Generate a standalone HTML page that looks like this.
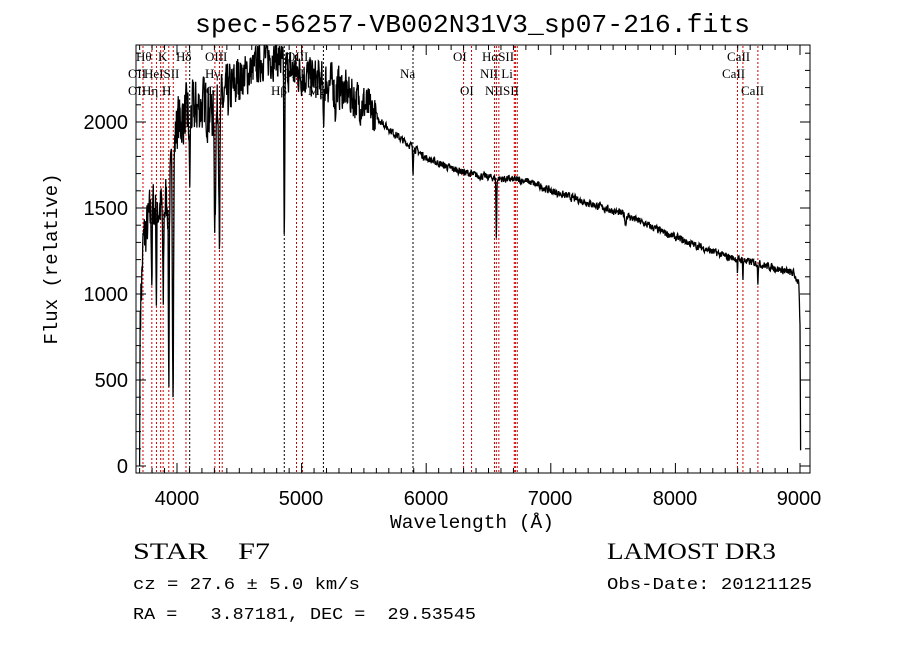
<!DOCTYPE html>
<html><head><meta charset="utf-8"><style>
html,body{margin:0;padding:0;background:#fff;}
svg{display:block;}
text{white-space:pre;}
</style></head><body>
<svg id="s" width="900" height="649" xmlns="http://www.w3.org/2000/svg" font-family="Liberation Sans, sans-serif">
<rect width="900" height="649" fill="#fff"/>
<text x="195" y="32" font-family="Liberation Mono, monospace" font-size="26" textLength="555" lengthAdjust="spacingAndGlyphs">spec-56257-VB002N31V3_sp07-216.fits</text>
<g id="lines"></g>
<g id="ticks" stroke="#000" stroke-width="1"></g>
<rect x="136" y="45" width="674" height="428" fill="none" stroke="#000" stroke-width="1"/>
<path id="spec" fill="none" stroke="#000" stroke-width="1.3"/>
<g font-size="20" text-anchor="middle">
<text x="177" y="505">4000</text><text x="301" y="505">5000</text><text x="426" y="505">6000</text>
<text x="550" y="505">7000</text><text x="675" y="505">8000</text><text x="799" y="505">9000</text>
</g>
<g font-size="20" text-anchor="end">
<text x="128" y="473">0</text><text x="128" y="387">500</text><text x="128" y="301">1000</text>
<text x="128" y="215">1500</text><text x="128" y="129">2000</text>
</g>
<text x="390" y="528" font-size="19" textLength="164" lengthAdjust="spacingAndGlyphs" font-family="Liberation Mono, monospace">Wavelength (Å)</text>
<text transform="translate(57,259) rotate(-90)" font-size="19" text-anchor="middle" font-family="Liberation Mono, monospace">Flux (relative)</text>
<g font-family="Liberation Serif, serif" font-size="23">
<text x="133" y="559" textLength="137" lengthAdjust="spacingAndGlyphs">STAR    F7</text>
<text x="607" y="559" textLength="169" lengthAdjust="spacingAndGlyphs">LAMOST DR3</text>
</g>
<g font-family="Liberation Mono, monospace" font-size="17">
<text x="133" y="589" textLength="227" lengthAdjust="spacingAndGlyphs">cz = 27.6 ± 5.0 km/s</text>
<text x="607" y="589" textLength="205" lengthAdjust="spacingAndGlyphs">Obs-Date: 20121125</text>
<text x="133" y="619" textLength="343" lengthAdjust="spacingAndGlyphs">RA =   3.87181, DEC =  29.53545</text>
</g>
<g id="lab" font-family="Liberation Serif, serif" font-size="13"></g>
</svg>
<script>
var X=function(w){return 177+(w-4000)*0.1246;},Y=function(f){return 466-f*0.172;};
var ns="http://www.w3.org/2000/svg";
function el(p,t,a,txt){var e=document.createElementNS(ns,t);for(var k in a)e.setAttribute(k,a[k]);if(txt)e.textContent=txt;p.appendChild(e);return e;}
var lines=[3727,3798,3835,3869,3889,3934,3970,4072,4102,4304,4341,4363,4861,4959,5007,5175,5894,6300,6364,6548,6563,6583,6707,6716,6731,8498,8542,8662];
var blk={4102:1,5175:1,4861:1,5894:1};
var g=document.getElementById('lines');
lines.forEach(function(w){el(g,'line',{x1:X(w),x2:X(w),y1:46,y2:472,stroke:blk[w]?'#000':'#c00','stroke-width':1,'stroke-dasharray':'2,2'});});
var t=document.getElementById('ticks');
for(var w=3700;w<=9000;w+=100){var L=(w%1000==0)?10:5;var x=X(w);el(t,'line',{x1:x,x2:x,y1:473,y2:473-L});el(t,'line',{x1:x,x2:x,y1:45,y2:45+L});}
for(var f=0;f<=2400;f+=100){var L=(f%500==0)?10:5;var y=Y(f);if(y<45)continue;el(t,'line',{x1:136,x2:136+L,y1:y,y2:y});el(t,'line',{x1:810,x2:810-L,y1:y,y2:y});}
var lab=document.getElementById('lab');
[["Hθ",136,61],["K",158,61],["Hδ",176,61],["OIII",205,61],["OIII",286,61],["OI",453,61],["HαSII",482,61],["CaII",727,61],
 ["OII",128,78],["HeISII",144,78],["Hγ",205,78],["OIII",282,78],["Na",400,78],["NII Li",480,78],["CaII",722,78],
 ["OII",128,95],["Hη",142,95],["H",162,95],["G",206,95],["Hβ",271,95],["Mg",308,95],["OI",460,95],["NIISII",485,95],["CaII",741,95]
].forEach(function(a){el(lab,'text',{x:a[1],y:a[2]},a[0]);});
var seed=7;function r(){seed=(seed*16807)%2147483647;return seed/2147483647-0.5;}
var cont=[[3700,0],[3705,900],[3730,1300],[3800,1500],[3900,1500],[3960,1700],[4000,2000],[4100,2050],[4200,2100],[4300,2050],[4400,2150],[4500,2250],[4600,2300],[4700,2380],[4800,2380],[4900,2300],[5000,2280],[5100,2250],[5200,2230],[5300,2200],[5400,2150],[5500,2100],[5600,2030],[5700,1960],[5800,1900],[5900,1850],[6000,1790],[6200,1730],[6400,1690],[6600,1670],[6800,1660],[7000,1600],[7300,1530],[7600,1460],[7900,1360],[8100,1300],[8400,1220],[8700,1170],[8950,1120],[8990,1060],[9000,800],[9005,100]];
function C(w){for(var i=1;i<cont.length;i++)if(w<=cont[i][0]){var a=cont[i-1],b=cont[i];return a[1]+(b[1]-a[1])*(w-a[0])/(b[0]-a[0]);}return 100;}
var dips=[[3798,400,4],[3835,500,4],[3889,600,5],[3934,1100,5],[3968,1200,6],[4102,400,6],[4304,600,8],[4341,700,6],[4861,1000,5],[5175,250,6],[5270,150,5],[5894,150,4],[6563,350,4],[8498,80,3],[8542,100,3],[8662,100,3],[7600,60,6]];
var d="",noise=0;
for(var w=3700;w<=9006;w+=2.5){var f=C(w);if(w>3705){var amp=w<4500?300:(w<5600?220:40);noise=0.3*noise+r()*amp;f+=noise;}
dips.forEach(function(q){var z=(w-q[0])/q[2];f-=q[1]*Math.exp(-z*z);});
if(f<0)f=0;var y=Y(f);if(y<46)y=46;d+=(d?"L":"M")+X(w).toFixed(1)+","+y.toFixed(1);}
document.getElementById('spec').setAttribute('d',d);
</script>
</body></html>
